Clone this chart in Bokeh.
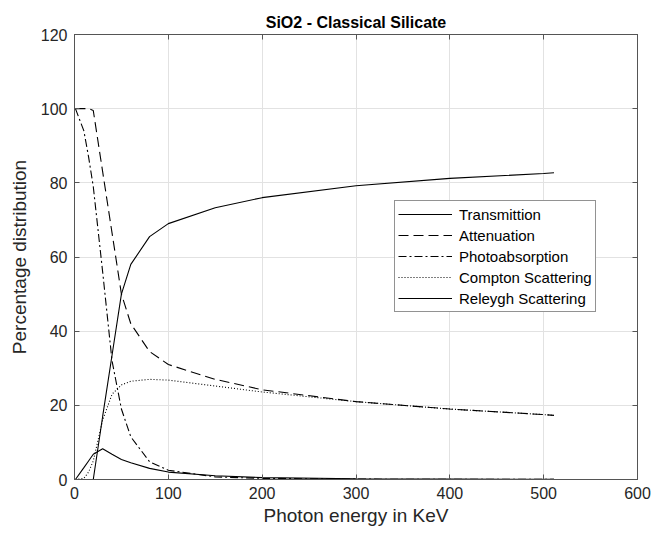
from bokeh.plotting import figure
from bokeh.models import LinearAxis, Range1d, Legend, LegendItem, FixedTicker
from bokeh.embed import file_html
from bokeh.resources import INLINE

# ---- data ----
energy = [1, 10, 15, 20, 30, 40, 50, 60, 80, 100, 150, 200, 300, 400, 500, 511]
transmission = [0, 0, 0, 0, 17, 33.5, 50, 58, 65.5, 69, 73.3, 76, 79.2, 81.2, 82.5, 82.7]
attenuation = [100, 100, 100, 99.5, 83, 66.5, 50, 42, 34.5, 31, 27, 24.2, 21, 19, 17.5, 17.3]
photoabsorption = [100, 94, 87, 79, 56, 32, 19, 11.5, 4.8, 2.5, 0.7, 0.3, 0.1, 0.05, 0.03, 0.03]
compton = [0, 0.3, 2, 5, 16, 23, 25.5, 26.5, 27, 26.8, 25.2, 23.6, 21, 19, 17.5, 17.3]
rayleigh = [0, 3.2, 5, 6.8, 8.3, 6.8, 5.4, 4.5, 3, 2, 1, 0.5, 0.2, 0.1, 0.05, 0.05]

series_names = ["Transmittion", "Attenuation", "Photoabsorption",
                "Compton Scattering", "Releygh Scattering"]
x_ticks = [0, 100, 200, 300, 400, 500, 600]
y_ticks = [0, 20, 40, 60, 80, 100, 120]

FONT = "Liberation Sans"
AX_COL = "#262626"
FRAME_COL = "#555555"

p = figure(frame_width=563, frame_height=445,
           min_border_left=74, min_border_right=27,
           min_border_top=34, min_border_bottom=54,
           x_range=Range1d(0, 600), y_range=Range1d(0, 120),
           output_backend="svg", toolbar_location=None,
           title="SiO2 - Classical Silicate")

p.title.align = "center"
p.title.text_font = FONT
p.title.text_font_size = "16px"
p.title.text_font_style = "bold"
p.title.text_color = "#000000"
p.title.standoff = 7

p.background_fill_color = "white"
p.border_fill_color = "white"
p.outline_line_color = FRAME_COL
p.outline_line_width = 1

for ax, ticks, label, lab_standoff in (
        (p.xaxis[0], x_ticks, "Photon energy in KeV", 3),
        (p.yaxis[0], y_ticks, "Percentage distribution", 8)):
    ax.ticker = FixedTicker(ticks=ticks)
    ax.axis_label = label
    ax.axis_label_text_font = FONT
    ax.axis_label_text_font_size = "19px"
    ax.axis_label_text_font_style = "normal"
    ax.axis_label_text_color = AX_COL
    ax.major_label_text_font = FONT
    ax.major_label_text_font_size = "16px"
    ax.major_label_text_color = AX_COL
    ax.major_tick_in = 5
    ax.major_tick_out = 0
    ax.minor_tick_in = 0
    ax.minor_tick_out = 0
    ax.axis_line_color = FRAME_COL
    ax.major_tick_line_color = FRAME_COL
    ax.major_label_standoff = 7
    ax.axis_label_standoff = lab_standoff

for loc, ticks in (("above", x_ticks), ("right", y_ticks)):
    a = LinearAxis(ticker=FixedTicker(ticks=ticks))
    a.major_label_text_font_size = "1px"
    a.major_label_text_color = None
    a.major_label_standoff = 0
    a.major_tick_in = 5
    a.major_tick_out = 0
    a.minor_tick_in = 0
    a.minor_tick_out = 0
    a.axis_line_color = FRAME_COL
    a.major_tick_line_color = FRAME_COL
    p.add_layout(a, loc)

p.xgrid.ticker = FixedTicker(ticks=x_ticks)
p.ygrid.ticker = FixedTicker(ticks=y_ticks)
p.xgrid.grid_line_color = "#e2e2e2"
p.ygrid.grid_line_color = "#e2e2e2"

styles = [
    (transmission, "solid"),
    (attenuation, "10 5"),
    (photoabsorption, "8 3 2 3"),
    (compton, "1 2"),
    (rayleigh, "solid"),
]
items = []
for name, (vals, dash) in zip(series_names, styles):
    r = p.line(energy, vals, line_color="black", line_width=1.1, line_dash=dash)
    items.append(LegendItem(label=name, renderers=[r]))

legend = Legend(items=items, location=(320, 167))
legend.label_text_font = FONT
legend.label_text_font_size = "15px"
legend.label_text_color = "#000000"
legend.glyph_width = 54
legend.glyph_height = 20
legend.label_height = 20
legend.label_standoff = 7
legend.spacing = 1
legend.padding = 3
legend.margin = 0
legend.border_line_color = AX_COL
legend.border_line_width = 1
legend.background_fill_alpha = 1.0
p.add_layout(legend)

open("out.html", "w").write(file_html(p, INLINE))
